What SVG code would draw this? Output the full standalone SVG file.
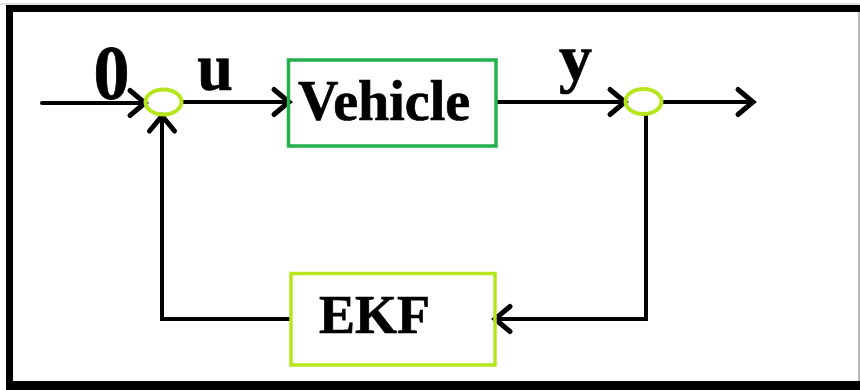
<svg xmlns="http://www.w3.org/2000/svg" width="860" height="390" viewBox="0 0 860 390">
<style>
.ln{fill:none;stroke:#000;stroke-width:4;stroke-linecap:round;stroke-linejoin:miter}
.lbl{font-family:"Liberation Serif","Times New Roman",serif;font-weight:bold;fill:#000;stroke:#000;stroke-width:0.7}
</style>
<defs>
<marker id="ah" viewBox="0 0 24 30" refX="20" refY="15" markerWidth="24" markerHeight="30" markerUnits="userSpaceOnUse" orient="auto" overflow="visible">
<path d="M5,2.5 L20,15 L5,27.5" fill="none" stroke="#000" stroke-width="5" stroke-linecap="round" stroke-linejoin="miter"/>
</marker>
</defs>
<rect width="860" height="390" fill="#fff"/>
<g id="frame">
<line x1="0" y1="4" x2="860" y2="4" stroke="#c8c8c8" stroke-width="1"/>
<rect x="6" y="5" width="854" height="7" fill="#000"/>
<rect x="6" y="5" width="7" height="385" fill="#000"/>
<rect x="6" y="381" width="854" height="9" fill="#000"/>
<line x1="859" y1="12" x2="859" y2="381" stroke="#a0a0a0" stroke-width="1.5"/>
</g>
<g id="connectors">
<line class="ln" x1="42" y1="103" x2="145" y2="103" marker-end="url(#ah)"/>
<line class="ln" x1="182" y1="102" x2="289" y2="102" marker-end="url(#ah)"/>
<line class="ln" x1="497" y1="102" x2="625" y2="102" marker-end="url(#ah)"/>
<line class="ln" x1="662" y1="102" x2="753" y2="102" marker-end="url(#ah)"/>
<polyline class="ln" points="646,115 646,319 495,319" marker-end="url(#ah)"/>
<polyline class="ln" points="290,319 162,319 162,116" marker-end="url(#ah)"/>
</g>
<g id="sum1"><ellipse cx="163.5" cy="102" rx="18" ry="12.5" fill="none" stroke="#b5e61d" stroke-width="4"/></g>
<g id="sum2"><ellipse cx="643.5" cy="101.5" rx="18" ry="12.5" fill="none" stroke="#b5e61d" stroke-width="4"/></g>
<g id="vehicle">
<rect x="288.5" y="60" width="207.5" height="86" fill="none" stroke="#22b14c" stroke-width="3.5"/>
<text class="lbl" x="384" y="120" font-size="56" text-anchor="middle">Vehicle</text>
</g>
<g id="ekf">
<rect x="291" y="273.5" width="204" height="91.5" fill="none" stroke="#b5e61d" stroke-width="3.5"/>
<text class="lbl" x="374.5" y="333" font-size="54" text-anchor="middle">EKF</text>
</g>
<g id="labels">
<text class="lbl" x="111.5" y="99" font-size="72" text-anchor="middle" transform="translate(111.5 99) scale(1 1.1) translate(-111.5 -99)">0</text>
<text class="lbl" x="215" y="90" font-size="64" text-anchor="middle" transform="translate(215 90) scale(1 1.05) translate(-215 -90)">u</text>
<text class="lbl" x="575.5" y="80" font-size="66" text-anchor="middle">y</text>
</g>
</svg>
